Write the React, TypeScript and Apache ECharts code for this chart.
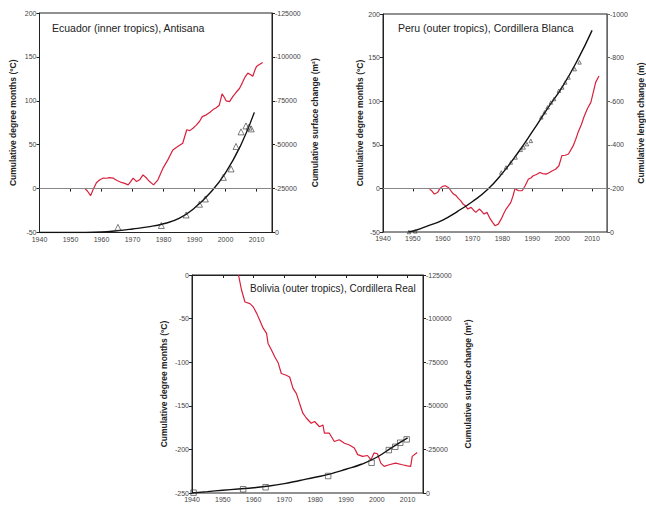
import React, { useEffect, useRef } from "react";
import * as echarts from "echarts";

const xTicks = [1940, 1950, 1960, 1970, 1980, 1990, 2000, 2010];

const titles = [
  "Ecuador (inner tropics), Antisana",
  "Peru (outer tropics), Cordillera Blanca",
  "Bolivia (outer tropics), Cordillera Real",
];
const leftName = "Cumulative degree months (°C)";
const rightNames = [
  "Cumulative surface change (m²)",
  "Cumulative length change (m)",
  "Cumulative surface change (m²)",
];

// Ecuador
const ecuadorTemp: [number, number][] = [
  [1954.7, 0], [1955.5, -3], [1956.5, -8], [1957.3, -1], [1958.4, 7], [1959.5, 10], [1960.6, 12],
  [1961.6, 11.8], [1962.5, 12.5], [1963.8, 12], [1964.3, 10.7], [1965.2, 9], [1966.4, 7], [1967.5, 6],
  [1968.6, 4.2], [1969.4, 8], [1970.2, 12], [1971.3, 8], [1972.3, 10], [1973.4, 15.6], [1974.5, 12],
  [1975.5, 8], [1976.8, 4.2], [1978.2, 10], [1979.8, 23], [1981.4, 32.7], [1983, 44], [1984.6, 48],
  [1986.2, 51.7], [1987.5, 67], [1988.5, 66], [1989.5, 68.8], [1990.5, 72], [1991.6, 76.4],
  [1992.5, 82], [1993.8, 84], [1995, 87], [1995.9, 89.7], [1997, 92], [1998, 95], [1998.9, 108],
  [1999.6, 104], [2000.2, 100], [2001.3, 99], [2002.4, 105], [2003.5, 110], [2004.5, 114],
  [2005.5, 121], [2006.3, 127], [2007.2, 131.5], [2008, 130], [2008.8, 128], [2009.5, 135],
  [2010, 139], [2010.8, 141], [2012, 143.6],
];
const ecuadorCurve: [number, number][] = [
  [1940, 0], [1950, 0], [1960, -300], [1965, -1000], [1970, -2000], [1975, -3200], [1980, -5000],
  [1985, -8000], [1990, -14000], [1995, -22500], [2000, -34000], [2005, -50000], [2009.3, -68400],
];
const ecuadorObs: [number, number][] = [
  [1965.3, -2900], [1979.3, -4000], [1987.3, -10000], [1991.6, -16100], [1993.5, -19100],
  [1999.3, -31400], [2001.8, -36200], [2003.4, -49000], [2005, -57300], [2006.6, -60700],
  [2007.6, -60000], [2008.3, -59000],
];

// Peru
const peruTemp: [number, number][] = [
  [1955.6, -0.8], [1956.4, -3], [1957.2, -6.5], [1958.3, -4.6], [1959.1, 0], [1959.9, 2.3],
  [1960.9, 3], [1962, 0.8], [1962.8, -3], [1963.6, -6.5], [1964.4, -8], [1965.2, -11.5],
  [1966, -14], [1966.8, -18], [1967.6, -20], [1968.4, -23.7], [1969.5, -21.8], [1970.3, -25],
  [1971.1, -27.5], [1972.2, -23.7], [1973, -26], [1973.8, -29.4], [1974.8, -27.5], [1975.9, -35],
  [1976.7, -39], [1977.5, -42.8], [1978.6, -41], [1979.6, -35], [1980.4, -29], [1981.2, -23.7],
  [1982, -20], [1982.8, -16], [1983.5, -9], [1984.2, 0], [1985, -2], [1985.5, -2.7], [1986.6, -2.7],
  [1987.6, 3], [1988.7, 10.7], [1989.5, 12], [1990.3, 14.5], [1991.4, 16], [1992.5, 18.3],
  [1993.5, 17], [1994.6, 16.4], [1995.6, 18], [1996.7, 20.3], [1997.8, 22], [1998.9, 26],
  [1999.9, 37.5], [2001, 38], [2002.1, 39.4], [2003.7, 49], [2004.5, 56], [2005.3, 64],
  [2006.4, 73], [2007.4, 83], [2008.5, 92], [2009.6, 98.6], [2010.4, 110], [2011.2, 121.6],
  [2012.3, 129],
];
const peruCurve: [number, number][] = [
  [1948.5, 0], [1951, -8], [1955, -28], [1960, -55], [1965, -95], [1970, -140], [1975, -195],
  [1980, -270], [1985, -360], [1990, -460], [1995, -565], [2000, -665], [2005, -785], [2010, -925],
];
const peruObs: [number, number][] = [
  [1948.7, 0], [1950.8, -3], [1979.6, -273], [1981.2, -296], [1982.8, -319], [1984.4, -342],
  [1986.1, -377], [1987.1, -388], [1988.2, -403], [1989.5, -418], [1993, -526], [1994.1, -549],
  [1995.1, -572], [1996.2, -594], [1997.3, -610], [1998.9, -648], [2000, -663], [2001, -686],
  [2002.1, -709], [2004.2, -747], [2005.8, -778],
];

// Bolivia
const boliviaTemp: [number, number][] = [
  [1955.1, 0], [1956.1, -17.5], [1957.2, -31], [1958.8, -32.8], [1959.9, -36.6], [1961, -44],
  [1962, -52], [1963.1, -61], [1964.2, -67], [1964.7, -78.5], [1965.8, -86], [1966.9, -94],
  [1968, -101], [1969, -113], [1970.6, -115], [1971.7, -117], [1972.8, -130], [1973.9, -136],
  [1974.9, -147], [1976, -158.5], [1977.1, -164], [1978.7, -170], [1979.8, -168], [1981.4, -174],
  [1982.5, -172], [1983, -181.4], [1984.6, -181.4], [1986.2, -191], [1987.8, -189], [1989.5, -193],
  [1991.1, -195], [1992.7, -198.5], [1993.8, -206], [1995.4, -208], [1997, -207], [1998.1, -212],
  [1999.1, -204], [2000.2, -205], [2001.3, -215.7], [2002.4, -219.5], [2004, -217.6],
  [2006.1, -215.7], [2008.3, -217.6], [2009.9, -218.8], [2011, -219.5], [2011.5, -208],
  [2013.1, -203.5],
];
const boliviaCurve: [number, number][] = [
  [1940, 0], [1945, -800], [1950, -1600], [1955, -2300], [1960, -3000], [1965, -4000],
  [1970, -5400], [1975, -7200], [1980, -9000], [1985, -11000], [1990, -13600], [1995, -16500],
  [2000, -20500], [2005, -26200], [2010, -31600],
];
const boliviaObs: [number, number][] = [
  [1940.5, -200], [1956.6, -2150], [1963.9, -3300], [1984.2, -9750], [1998.3, -17350],
  [2003.9, -24600], [2006, -26500], [2007.6, -28800], [2009.7, -30750],
];

const FONT = "Liberation Sans, Arial, sans-serif";
const plain = (v: number) => String(v);

function xAxisFor(i: number) {
  return {
    type: "value",
    gridIndex: i,
    min: 1940,
    max: 2015,
    axisLine: { show: true, lineStyle: { color: "#222", width: 1 } },
    axisTick: { show: true, length: 3, customValues: xTicks, lineStyle: { color: "#222" } },
    axisLabel: { customValues: xTicks, formatter: plain, fontSize: 7, color: "#444", margin: 3, fontFamily: FONT },
    splitLine: { show: false },
  };
}

function yLeft(i: number, min: number, max: number, interval: number, gap: number) {
  return {
    type: "value",
    gridIndex: i,
    position: "left",
    min,
    max,
    interval,
    name: leftName,
    nameLocation: "middle",
    nameRotate: 90,
    nameGap: gap,
    nameTextStyle: { fontSize: 8.5, fontWeight: "bold", color: "#222", fontFamily: FONT },
    axisLine: { show: true, lineStyle: { color: "#222", width: 1 } },
    axisTick: { show: true, length: 3, lineStyle: { color: "#222" } },
    axisLabel: { formatter: plain, fontSize: 7, color: "#444", margin: 3, fontFamily: FONT },
    splitLine: { show: false },
  };
}

function yRight(i: number, min: number, interval: number, gap: number, color: string) {
  return {
    type: "value",
    gridIndex: i,
    position: "right",
    inverse: true,
    min,
    max: 0,
    interval,
    name: rightNames[i],
    nameLocation: "middle",
    nameRotate: 90,
    nameGap: gap,
    nameTextStyle: { fontSize: 8.5, fontWeight: "bold", color: "#222", fontFamily: FONT },
    axisLine: { show: true, lineStyle: { color, width: 1 } },
    axisTick: { show: true, length: 3, lineStyle: { color } },
    axisLabel: { formatter: plain, fontSize: 7, color: "#444", margin: 3, fontFamily: FONT },
    splitLine: { show: false },
  };
}

const zeroLine = {
  silent: true,
  symbol: ["none", "none"],
  label: { show: false },
  lineStyle: { color: "#888", width: 1, type: "solid" },
  data: [{ yAxis: 0 }],
};

function redSeries(i: number, data: [number, number][], zero: boolean) {
  return {
    type: "line",
    xAxisIndex: i,
    yAxisIndex: i * 2,
    data,
    showSymbol: false,
    lineStyle: { color: "#d8203c", width: 1.2 },
    markLine: zero ? zeroLine : undefined,
    z: 3,
  };
}

function curveSeries(i: number, data: [number, number][]) {
  return {
    type: "line",
    xAxisIndex: i,
    yAxisIndex: i * 2 + 1,
    data,
    smooth: true,
    showSymbol: false,
    lineStyle: { color: "#111", width: 1.4 },
    z: 4,
  };
}

function obsSeries(i: number, data: [number, number][], symbol: string, size: number) {
  return {
    type: "scatter",
    xAxisIndex: i,
    yAxisIndex: i * 2 + 1,
    data,
    symbol,
    symbolSize: size,
    itemStyle: { color: "rgba(255,255,255,0)", borderColor: "#333", borderWidth: 0.8 },
    z: 5,
  };
}

export default function App() {
  const ref = useRef<HTMLDivElement>(null);
  useEffect(() => {
    if (!ref.current) return;
    const chart = echarts.init(ref.current, undefined, { renderer: "svg" });
    const gridBase = { show: true, borderColor: "#222", borderWidth: 1, backgroundColor: "transparent" };
    const tStyle = (size: number) => ({ fontSize: size, fontWeight: "normal", color: "#222", fontFamily: FONT });
    chart.setOption({
      animation: false,
      backgroundColor: "#fff",
      textStyle: { fontFamily: FONT },
      title: [
        { text: titles[0], left: 47, top: 17, textStyle: tStyle(10.5) },
        { text: titles[1], left: 393, top: 17, textStyle: tStyle(10.5) },
        { text: titles[2], left: 245, top: 278, textStyle: tStyle(10) },
      ],
      grid: [
        { ...gridBase, left: 39.5, top: 13, width: 232.5, height: 219.5 },
        { ...gridBase, left: 383, top: 14, width: 233, height: 218 },
        { ...gridBase, left: 192, top: 275, width: 231, height: 218 },
      ],
      xAxis: [xAxisFor(0), xAxisFor(1), xAxisFor(2)],
      yAxis: [
        yLeft(0, -50, 200, 50, 22),
        yRight(0, -125000, 25000, 38, "#222"),
        yLeft(1, -50, 200, 50, 17),
        yRight(1, -1000, 200, 29, "#666"),
        yLeft(2, -250, 0, 50, 24),
        yRight(2, -125000, 25000, 40, "#222"),
      ],
      series: [
        redSeries(0, ecuadorTemp, true),
        curveSeries(0, ecuadorCurve),
        obsSeries(0, ecuadorObs, "triangle", 6),
        redSeries(1, peruTemp, true),
        curveSeries(1, peruCurve),
        obsSeries(1, peruObs, "triangle", 3.5),
        redSeries(2, boliviaTemp, false),
        curveSeries(2, boliviaCurve),
        obsSeries(2, boliviaObs, "rect", 5.5),
      ],
    });
    return () => chart.dispose();
  }, []);
  return (
    <div
      ref={ref}
      style={{ position: "absolute", left: 0, top: 0, width: 646, height: 506 }}
    />
  );
}
